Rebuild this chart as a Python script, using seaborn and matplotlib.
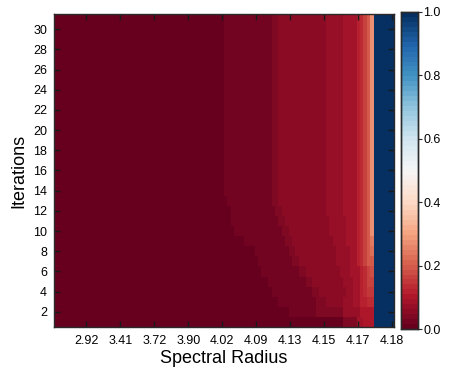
import numpy as np
import pandas as pd
import matplotlib
matplotlib.use("Agg")
import matplotlib.pyplot as plt
import seaborn as sns

# ---------------- data ----------------
n_cols = 100
iterations = list(range(1, 32))
xtick_cols = [9, 19, 29, 39, 49, 59, 69, 79, 89, 99]
xtick_labels = ["2.92", "3.41", "3.72", "3.90", "4.02", "4.09", "4.13", "4.15", "4.17", "4.18"]
ytick_values = list(range(2, 31, 2))

# run-length (value, number of columns) profile for iterations 14..31
upper_profile = [(0.0, 50), (0.02, 14), (0.035, 2), (0.05, 14), (0.07, 5), (0.085, 4),
                 (0.12, 1), (0.14, 1), (0.16, 1), (0.19, 1), (0.28, 1), (1.0, 6)]

# run-length profiles for the low iterations
lower_rows = {
    13: [(0.0, 51), (0.02, 13), (0.035, 2), (0.05, 14), (0.07, 5), (0.085, 4),
         (0.12, 1), (0.14, 1), (0.16, 1), (0.19, 1), (0.28, 1), (1.0, 6)],
    12: [(0.0, 52), (0.02, 13), (0.035, 2), (0.05, 13), (0.07, 5), (0.085, 4),
         (0.12, 1), (0.14, 1), (0.16, 1), (0.19, 1), (0.28, 1), (1.0, 6)],
    11: [(0.0, 52), (0.02, 14), (0.035, 2), (0.05, 13), (0.07, 5), (0.085, 3),
         (0.12, 1), (0.14, 1), (0.16, 1), (0.19, 1), (0.28, 1), (1.0, 6)],
    10: [(0.0, 53), (0.02, 14), (0.035, 2), (0.05, 12), (0.07, 5), (0.085, 3),
         (0.12, 1), (0.14, 1), (0.16, 1), (0.19, 1), (0.28, 1), (1.0, 6)],
    9: [(0.0, 56), (0.02, 12), (0.035, 2), (0.05, 12), (0.07, 4), (0.085, 3),
        (0.12, 1), (0.14, 1), (0.16, 1), (0.19, 1), (0.24, 1), (1.0, 6)],
    8: [(0.0, 59), (0.02, 10), (0.035, 2), (0.05, 12), (0.07, 4), (0.085, 2),
        (0.12, 1), (0.14, 1), (0.16, 1), (0.19, 1), (0.22, 1), (1.0, 6)],
    7: [(0.0, 60), (0.02, 10), (0.035, 2), (0.05, 11), (0.07, 4), (0.085, 2),
        (0.12, 1), (0.14, 1), (0.16, 1), (0.19, 2), (1.0, 6)],
    6: [(0.0, 61), (0.02, 11), (0.035, 2), (0.05, 10), (0.07, 3), (0.085, 3),
        (0.12, 1), (0.14, 1), (0.16, 1), (0.18, 1), (1.0, 6)],
    5: [(0.0, 63), (0.02, 11), (0.035, 2), (0.05, 9), (0.07, 3), (0.085, 2),
        (0.12, 1), (0.14, 1), (0.16, 1), (0.17, 1), (1.0, 6)],
    4: [(0.0, 64), (0.02, 12), (0.035, 2), (0.05, 8), (0.07, 2), (0.085, 2),
        (0.12, 1), (0.14, 1), (0.15, 2), (1.0, 6)],
    3: [(0.0, 66), (0.02, 11), (0.035, 3), (0.05, 5), (0.07, 3), (0.085, 2),
        (0.11, 2), (0.13, 2), (1.0, 6)],
    2: [(0.0, 69), (0.02, 8), (0.035, 8), (0.07, 5), (0.10, 4), (1.0, 6)],
    1: [(0.0, 69), (0.01, 16), (0.045, 4), (0.085, 2), (0.095, 3), (1.0, 6)],
}

# ---------------- build table ----------------
rows = []
for it in iterations:
    prof = lower_rows.get(it, upper_profile)
    vals = []
    for v, n in prof:
        vals.extend([v] * n)
    rows.append(vals)
df = pd.DataFrame(rows, index=iterations, columns=range(n_cols))
df = df.iloc[::-1]  # highest iteration at top

# ---------------- figure ----------------
plt.rcParams["font.family"] = ["Liberation Sans", "DejaVu Sans"]

fig = plt.figure(figsize=(4.54, 3.75), dpi=100)
ax = fig.add_axes([54 / 454, 1 - 327 / 375, 340 / 454, 313 / 375])
cax = fig.add_axes([401 / 454, 1 - 329 / 375, 17 / 454, 317 / 375])

cmap = matplotlib.colormaps["RdBu"].resampled(64)
sns.heatmap(df, ax=ax, cmap=cmap, vmin=0, vmax=1, cbar_ax=cax,
            xticklabels=False, yticklabels=False)

edge = "#2a2a2a"
for s in ax.spines.values():
    s.set_visible(True)
    s.set_color(edge)
    s.set_linewidth(1.0)
    s.set_zorder(5)

ax.set_xticks(np.array(xtick_cols) + 0.5)
ax.set_xticklabels(xtick_labels, rotation=0, fontsize=9)
n_rows = len(iterations)
ax.set_yticks([n_rows - v + 0.5 for v in ytick_values])
ax.set_yticklabels([str(v) for v in ytick_values], rotation=0, fontsize=9)
ax.tick_params(axis="both", which="major", direction="in", length=4, width=1.0,
               color="#1a1a1a", top=True, right=True, bottom=True, left=True,
               labelcolor="black")
ax.tick_params(axis="x", pad=6)
ax.tick_params(axis="y", pad=5)
ax.set_xlabel("Spectral Radius", fontsize=13, labelpad=2)
ax.set_ylabel("Iterations", fontsize=13, labelpad=4)

cax.set_yticks([0, 0.2, 0.4, 0.6, 0.8, 1.0])
cax.set_yticklabels(["0.0", "0.2", "0.4", "0.6", "0.8", "1.0"], fontsize=9)
cax.tick_params(axis="y", direction="out", length=3, width=0.8, color=edge, pad=1)
for s in cax.spines.values():
    s.set_visible(True)
    s.set_color(edge)
    s.set_linewidth(1.0)

fig.savefig("out.png", dpi=100)
